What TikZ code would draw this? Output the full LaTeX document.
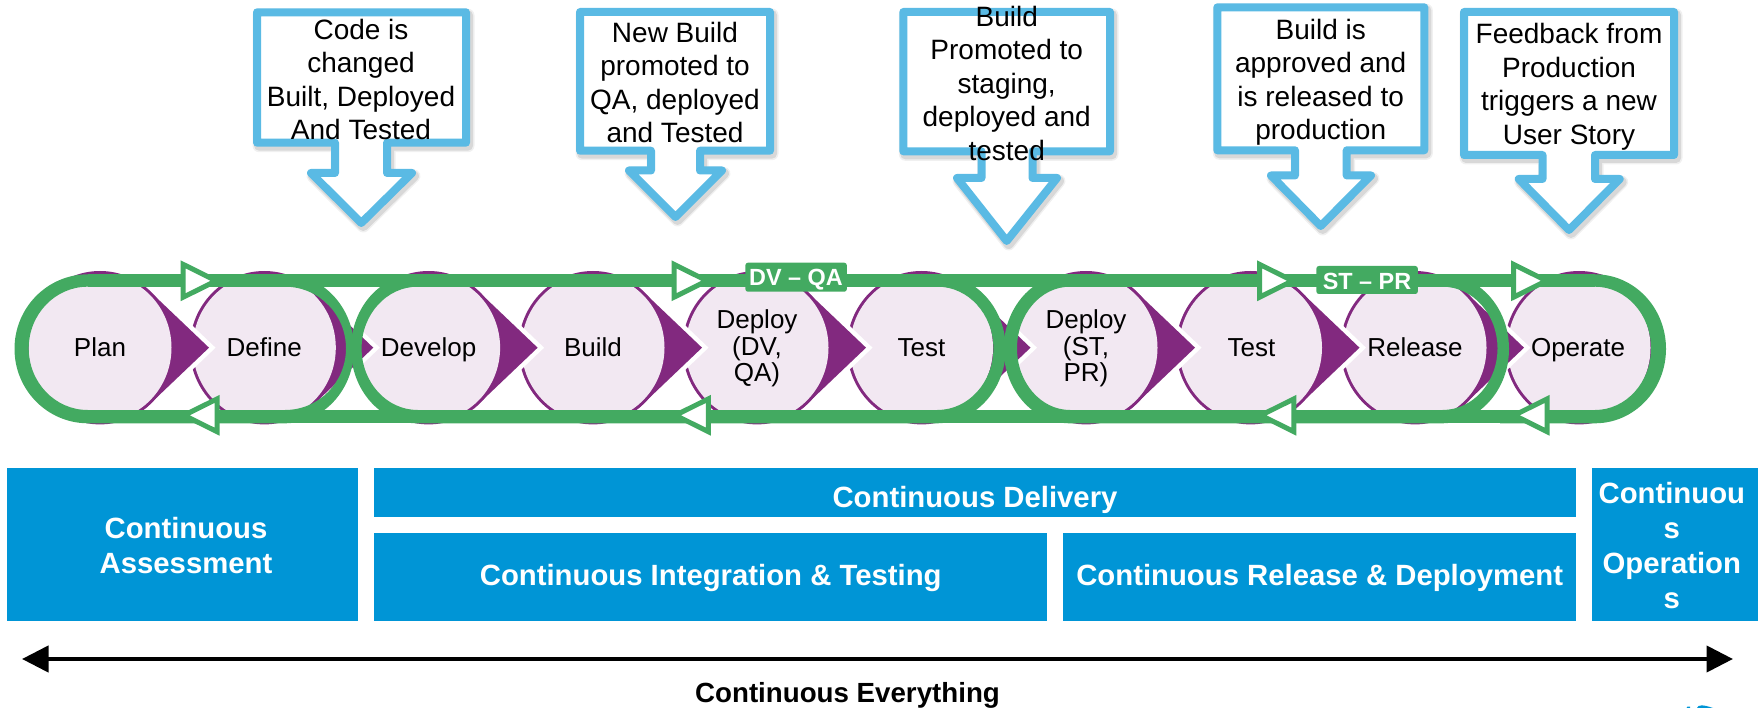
\documentclass[tikz,border=0pt]{standalone}
\usepackage{fontspec}
\setmainfont{Liberation Sans}
\usetikzlibrary{arrows.meta}
\definecolor{pipegreen}{HTML}{43AA61}
\definecolor{stagepurple}{HTML}{82297F}
\definecolor{stagelilac}{HTML}{F2E8F2}
\definecolor{bandblue}{HTML}{0095D6}
\definecolor{calloutblue}{HTML}{5ABAE4}
\tikzset{
  stagetext/.style={align=center,inner sep=0pt,font=\fontsize{26}{26.5}\selectfont},
  callouttext/.style={align=center,inner sep=0pt,font=\fontsize{28}{33.5}\selectfont},
  bandbox/.style={fill=bandblue,draw=none},
  bandtext/.style={align=center,inner sep=0pt,text=white,font=\fontsize{29.3}{35}\selectfont\bfseries},
  tagbox/.style={fill=pipegreen,rounded corners=2.5pt},
  tagtext/.style={inner sep=0pt,text=white,font=\fontsize{23.4}{26}\selectfont\bfseries},
  flowtri/.style={fill=white,draw=pipegreen,line width=5pt,miter limit=10},
  calloutline/.style={fill=white,draw=calloutblue,line width=8pt,line join=round},
  calloutshade/.style={draw=black,line join=round,shift={(2,3)}},
}
\newcommand{\stageshape}[1]{%
  \draw[white,line width=9pt,line join=miter,miter limit=10] ({#1+45},286.7) -- ({#1+109},347.7) -- ({#1+45},408.7);
  \fill[stagepurple] ({#1+45},286.7) -- ({#1+109},347.7) -- ({#1+45},408.7) -- cycle;
  \fill[stagepurple] (#1,347.7) ellipse[x radius=74.5,y radius=76.7];
  \fill[stagelilac] (#1,347.7) ellipse[x radius=71.5,y radius=73.7];
}
\newcommand{\lastshape}[1]{%
  \fill[stagepurple] (#1,347.7) ellipse[x radius=74.5,y radius=76.7];
  \fill[stagelilac] (#1,347.7) ellipse[x radius=71.5,y radius=73.7];
}
% xl xr yt yb rxl rxr
\newcommand{\pillloop}[6]{({#1+#5},#3) -- ({#2-#6},#3) arc[start angle=-90,end angle=90,x radius=#6,y radius={(#4-#3)/2}] -- ({#1+#5},#4) arc[start angle=90,end angle=270,x radius=#5,y radius={(#4-#3)/2}] -- cycle}
\newcommand{\pill}[8]{\fill[pipegreen,even odd rule] \pillloop{#1}{#2}{274.3}{423.3}{#3}{#4} \pillloop{#5}{#6}{286.7}{410}{#7}{#8};}
\newcommand{\calloutshape}[1]{%
  \draw[calloutshade,line width=13pt,opacity=.06] #1;
  \draw[calloutshade,line width=10pt,opacity=.10] #1;
  \draw[calloutline] #1;
}
\begin{document}
\begin{tikzpicture}[x=1pt,y=-1pt]
\useasboundingbox (0,0) rectangle (1758,708);

% stages, right to left so each arrow overlaps its successor
\lastshape{1579}
\stageshape{1415}
\stageshape{1250.5}
\stageshape{1086}
\stageshape{921.5}
\stageshape{757}
\stageshape{593}
\stageshape{428.6}
\stageshape{264.3}
\stageshape{100}

% green loops
\pill{14.5}{354}{73.5}{69}{28.7}{346}{59}{61}
\pill{351}{1005.7}{66}{69}{361.6}{993.4}{56}{56}
\pill{1003.7}{1509}{66}{67}{1017}{1497.5}{53}{55}
\fill[pipegreen] (88,274.3) rectangle (1595,286.7);
\fill[pipegreen] (88,410) rectangle (1595,423.3);
\fill[pipegreen] (1500,274.3) -- (1595,274.3) arc[start angle=-90,end angle=90,x radius=71,y radius=74.5] -- (1500,423.3) -- (1500,410) -- (1595,410) arc[start angle=90,end angle=-90,x radius=56,y radius=61.65] -- (1500,286.7) -- cycle;

% flow arrows
\foreach \px in {183.2,674,1259.6,1513.5}
  \draw[flowtri] (\px,264.4) -- ({\px+33},280.8) -- (\px,297.2) -- cycle;
\foreach \px in {217.1,708.4,1293.9,1547.2}
  \draw[flowtri] (\px,398.9) -- ({\px-33},415.3) -- (\px,431.7) -- cycle;

% tags
\fill[tagbox] (745.4,262.7) rectangle (846.8,291.7);
\node[tagtext] (dvqa) at (796,279.5) {DV – QA};
\fill[tagbox] (1316.4,266) rectangle (1417.8,294);
\node[tagtext] (stpr) at (1367,281) {ST – PR};

% stage labels
\node[stagetext] (plan) at (100,347.5) {Plan};
\node[stagetext] (define) at (264.3,347.5) {Define};
\node[stagetext] (develop) at (428.6,350) {Develop};
\node[stagetext] (build) at (593,347.5) {Build};
\node[stagetext] (deploya) at (757,348.5) {Deploy\\(DV,\\QA)};
\node[stagetext] (testa) at (921.5,347.5) {Test};
\node[stagetext] (deployb) at (1086,348.5) {Deploy\\(ST,\\PR)};
\node[stagetext] (testb) at (1251.5,347.5) {Test};
\node[stagetext] (release) at (1415,347.5) {Release};
\node[stagetext] (operate) at (1578,350) {Operate};

% callouts
\calloutshape{(257,12.3) -- (466,12.3) -- (466,142.7) -- (387,142.7) -- (387,173) -- (412,173) -- (361.3,223) -- (311,173) -- (335,173) -- (335,142.7) -- (257,142.7) -- cycle}
\calloutshape{(580,12) -- (770,12) -- (770,150.7) -- (700,150.7) -- (700,170.5) -- (722,170.5) -- (675.5,217) -- (629,170.5) -- (651,170.5) -- (651,150.7) -- (580,150.7) -- cycle}
\calloutshape{(903.3,12) -- (1110,12) -- (1110,151.3) -- (1032.5,151.3) -- (1032.5,178) -- (1057,178) -- (1006.7,241) -- (957,178) -- (981.5,178) -- (981.5,151.3) -- (903.3,151.3) -- cycle}
\calloutshape{(1217.3,7.3) -- (1424.3,7.3) -- (1424.3,150.3) -- (1346.7,150.3) -- (1346.7,175.5) -- (1371,175.5) -- (1320.7,226) -- (1271,175.5) -- (1295,175.5) -- (1295,150.3) -- (1217.3,150.3) -- cycle}
\calloutshape{(1464,12) -- (1674,12) -- (1674,155) -- (1595,155) -- (1595,179) -- (1619.7,179) -- (1569,230) -- (1518.7,179) -- (1542.5,179) -- (1542.5,155) -- (1464,155) -- cycle}

\node[callouttext] (calla) at (361,79.5) {Code is\\changed\\Built, Deployed\\And Tested};
\node[callouttext] (callb) at (675,82.5) {New Build\\promoted to\\QA, deployed\\and Tested};
\node[callouttext] (callc) at (1006.7,83) {Build\\Promoted to\\staging,\\deployed and\\tested};
\node[callouttext] (calld) at (1320.7,82.5) {Build is\\approved and\\is released to\\production};
\node[callouttext] (calle) at (1569,87) {Feedback from\\Production\\triggers a new\\User Story};

% bands
\fill[bandbox] (7,468.3) rectangle (358,620.7);
\node[bandtext] (assess) at (186,546) {Continuous\\Assessment};
\fill[bandbox] (374,468.3) rectangle (1576,517.3);
\node[bandtext] (delivery) at (975,499.7) {Continuous Delivery};
\fill[bandbox] (374,533.3) rectangle (1047.4,620.7);
\node[bandtext] (integ) at (710.7,578) {Continuous Integration \& Testing};
\fill[bandbox] (1063.3,533.3) rectangle (1576,620.7);
\node[bandtext] (rel) at (1319.7,578) {Continuous Release \& Deployment};
\fill[bandbox] (1592,468.3) rectangle (1758,620.7);
\node[bandtext] (ops) at (1671.8,545.5) {Continuou\\s\\Operation\\s};

% continuous-everything arrow
\coordinate (evl) at (22,659);
\coordinate (evr) at (1733,659);
\draw[line width=4.3pt,{Triangle[length=26.5pt,width=26pt]}-{Triangle[length=26.5pt,width=26pt]}] (evl) -- (evr);
\node[inner sep=0pt,font=\fontsize{27.7}{32}\selectfont\bfseries] (every) at (847.5,695) {Continuous Everything};

% logo fragment at the lower edge
\fill[bandblue] (1686.5,708) -- (1687.5,706.5) -- (1690,706.5) -- (1690,708) -- cycle;
\fill[bandblue] (1697,708) .. controls (1698,704.5) and (1703,704.5) .. (1713,708) -- cycle;
\end{tikzpicture}
\end{document}
